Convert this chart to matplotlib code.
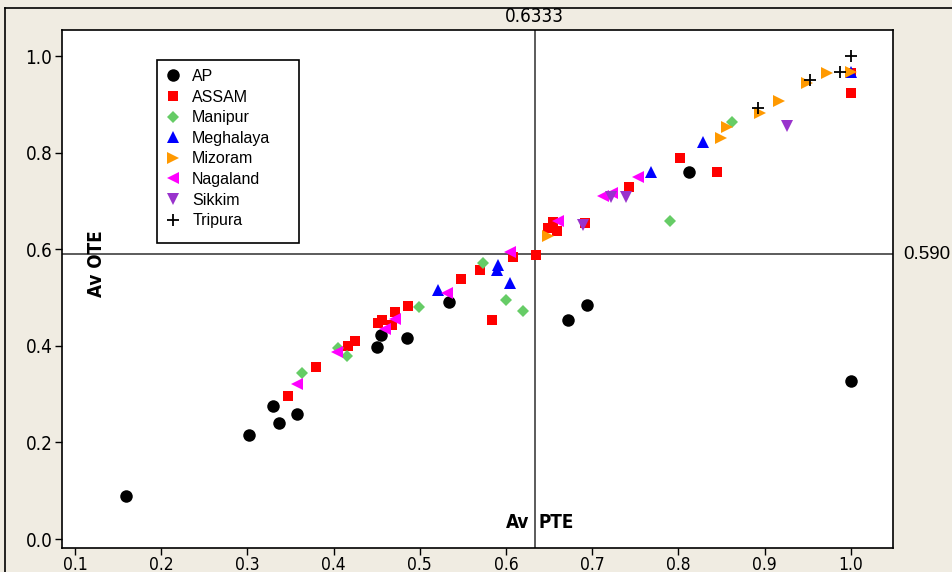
import numpy as np
import matplotlib
matplotlib.use("Agg")
import matplotlib.pyplot as plt
from matplotlib.patches import Rectangle
from matplotlib.lines import Line2D

# ---- data (Av PTE, Av OTE) ----
states = ["AP", "ASSAM", "Manipur", "Meghalaya", "Mizoram", "Nagaland", "Sikkim", "Tripura"]

ap_x = [0.159, 0.302, 0.330, 0.337, 0.358, 0.450, 0.455, 0.485, 0.534, 0.672, 0.694, 0.812, 1.000]
ap_y = [0.089, 0.215, 0.275, 0.240, 0.259, 0.398, 0.422, 0.416, 0.491, 0.453, 0.484, 0.760, 0.327]

assam_x = [0.347, 0.380, 0.417, 0.425, 0.452, 0.456, 0.468, 0.471, 0.486, 0.548, 0.570, 0.584,
           0.608, 0.635, 0.649, 0.655, 0.659, 0.692, 0.743, 0.802, 0.845, 1.000, 1.000]
assam_y = [0.296, 0.356, 0.400, 0.410, 0.447, 0.453, 0.443, 0.470, 0.482, 0.538, 0.557, 0.453,
           0.584, 0.588, 0.644, 0.656, 0.638, 0.654, 0.729, 0.789, 0.760, 0.965, 0.923]

manipur_x = [0.363, 0.405, 0.416, 0.499, 0.573, 0.600, 0.620, 0.790, 0.862]
manipur_y = [0.344, 0.395, 0.379, 0.480, 0.571, 0.495, 0.472, 0.658, 0.863]

meghalaya_x = [0.521, 0.591, 0.590, 0.605, 0.768, 0.829, 1.000]
meghalaya_y = [0.516, 0.567, 0.557, 0.530, 0.760, 0.822, 0.967]

mizoram_x = [0.649, 0.849, 0.856, 0.895, 0.917, 0.949, 0.972, 1.000]
mizoram_y = [0.627, 0.830, 0.853, 0.882, 0.907, 0.944, 0.965, 0.967]

nagaland_x = [0.358, 0.404, 0.460, 0.471, 0.532, 0.605, 0.660, 0.713, 0.723, 0.753]
nagaland_y = [0.321, 0.387, 0.435, 0.455, 0.509, 0.594, 0.658, 0.710, 0.716, 0.749]

sikkim_x = [0.689, 0.722, 0.739, 0.926]
sikkim_y = [0.650, 0.708, 0.708, 0.855]

tripura_x = [0.892, 0.953, 0.987, 1.000]
tripura_y = [0.892, 0.950, 0.967, 1.000]

pte_mean = 0.6333
ote_mean = 0.590

xticks = [0.1, 0.2, 0.3, 0.4, 0.5, 0.6, 0.7, 0.8, 0.9, 1.0]
yticks = [0.0, 0.2, 0.4, 0.6, 0.8, 1.0]

series = [
    (ap_x, ap_y, "o", "black", 9.0),
    (assam_x, assam_y, "s", "#ff0000", 7.8),
    (manipur_x, manipur_y, "D", "#66cc66", 6.3),
    (meghalaya_x, meghalaya_y, "^", "#0000ff", 8.6),
    (mizoram_x, mizoram_y, ">", "#ff9900", 8.6),
    (nagaland_x, nagaland_y, "<", "#ff00ff", 8.6),
    (sikkim_x, sikkim_y, "v", "#9933cc", 8.6),
    (tripura_x, tripura_y, "+", "black", 8.5),
]

plt.rcParams["font.family"] = ["Liberation Sans", "DejaVu Sans"]
cond = dict(family="DejaVu Sans", fontstretch="condensed")

W, H = 952, 572
fig = plt.figure(figsize=(W / 100, H / 100), dpi=100, facecolor="#f0ece2")
ax = fig.add_axes([62 / W, (H - 548) / H, 831 / W, 518 / H])
ax.set_facecolor("white")

# outer frame line (top and left)
fig.add_artist(Line2D([5 / W, 1.0], [1 - 8 / H, 1 - 8 / H], color="black", lw=1.2))
fig.add_artist(Line2D([5 / W, 5 / W], [0, 1 - 8 / H], color="black", lw=1.2))

ax.axvline(pte_mean, color="#404040", lw=1.2, zorder=1)
ax.axhline(ote_mean, color="#404040", lw=1.2, zorder=1)

for (xs, ys, mk, col, ms), name in zip(series, states):
    if mk == "+":
        ax.plot(xs, ys, ls="none", marker=mk, ms=ms, mew=1.3, color=col, label=name, zorder=3)
    else:
        ax.plot(xs, ys, ls="none", marker=mk, ms=ms, mew=0, color=col, label=name, zorder=3)

ax.set_xlim(0.0849, 1.049)
ax.set_ylim(-0.0186, 1.054)
ax.set_xticks(xticks)
ax.set_yticks(yticks)
ax.set_xticklabels([f"{v:.1f}" for v in xticks], fontsize=12.5, **cond)
ax.set_yticklabels([f"{v:.1f}" for v in yticks], fontsize=13.5, **cond)
ax.tick_params(direction="out", length=5, width=1, color="black", pad=2)
ax.tick_params(axis="x", pad=0.5)
for sp in ax.spines.values():
    sp.set_color("black")
    sp.set_linewidth(1.2)

# reference line values outside the axes
ax.text(pte_mean, 1.0 + 14 / 518, "0.6333", transform=ax.get_xaxis_transform(),
        ha="center", va="center", fontsize=13.5, clip_on=False, **cond)
ax.text(1.0 + 10 / 831, ote_mean, "0.590", transform=ax.get_yaxis_transform(),
        ha="left", va="center", fontsize=13.5, clip_on=False)

# axis titles inside the plot
ax.annotate("Av", (pte_mean, 0.035), xytext=(-4, 0), textcoords="offset points",
            ha="right", va="center", fontweight="bold", fontsize=13.5, **cond)
ax.annotate("PTE", (pte_mean, 0.035), xytext=(3, 0), textcoords="offset points",
            ha="left", va="center", fontweight="bold", fontsize=13.5, **cond)
ax.text(0.125, 0.571, "Av OTE", rotation=90, ha="center", va="center",
        fontweight="bold", fontsize=13.5, **cond)

# legend with a taller hand drawn frame
ax.add_patch(Rectangle(((157 - 62) / 831, (548 - 243) / 518), 142 / 831, 183 / 518,
                       transform=ax.transAxes, facecolor="white", edgecolor="black",
                       lw=1.2, zorder=4))
leg = ax.legend(loc="upper left", bbox_to_anchor=((163 - 62) / 831, (548 - 69) / 518),
                frameon=False, borderaxespad=0, borderpad=0, handlelength=1.2,
                handletextpad=0.63, labelspacing=0.35, fontsize=11.5)
leg.set_zorder(5)

fig.savefig("out.png", dpi=100, facecolor=fig.get_facecolor())
